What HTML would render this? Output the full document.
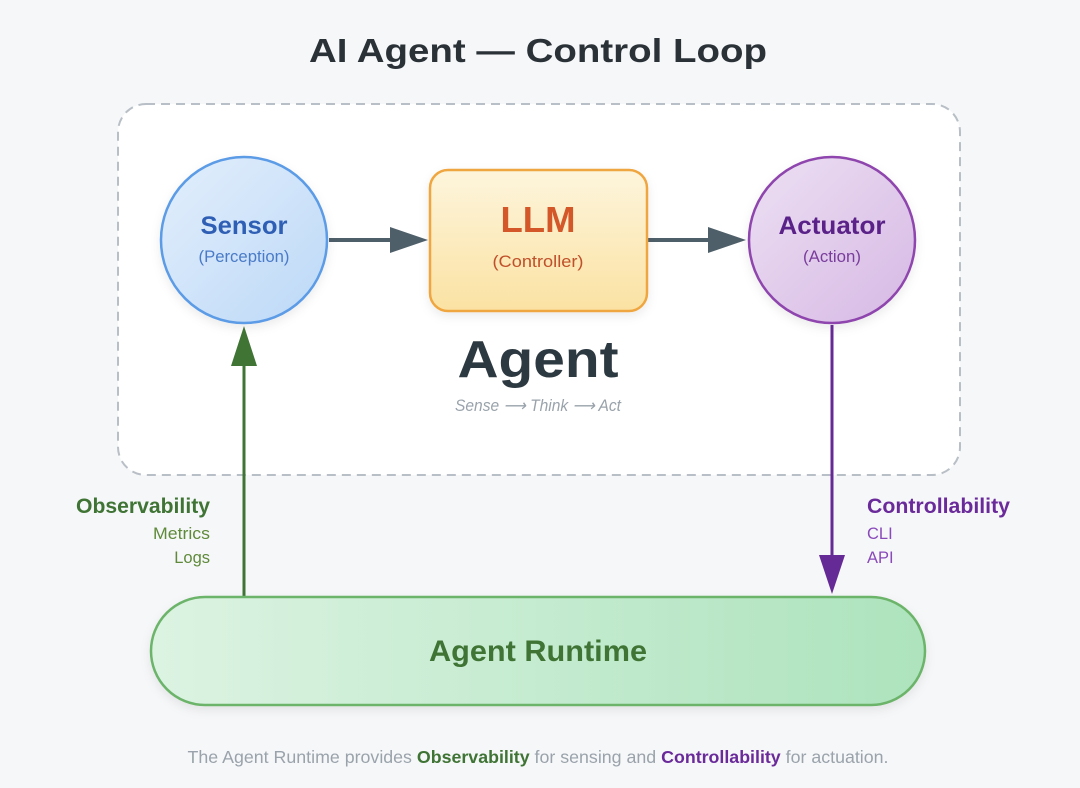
<!DOCTYPE html>
<html><head><meta charset="utf-8"><style>
html,body{margin:0;padding:0;background:#f6f7f9;}
svg{display:block;font-family:"Liberation Sans",sans-serif;}
</style></head><body>
<svg width="1080" height="788" viewBox="0 0 1080 788" xmlns="http://www.w3.org/2000/svg">
<defs>
<linearGradient id="gs" x1="0" y1="0" x2="1" y2="1"><stop offset="0" stop-color="#e3effc"/><stop offset="1" stop-color="#bcd8f7"/></linearGradient>
<linearGradient id="gl" x1="0" y1="0" x2="0" y2="1"><stop offset="0" stop-color="#fdf5dc"/><stop offset="1" stop-color="#fbe2a3"/></linearGradient>
<linearGradient id="ga" x1="0" y1="0" x2="1" y2="1"><stop offset="0" stop-color="#ede0f3"/><stop offset="1" stop-color="#d6b8e4"/></linearGradient>
<linearGradient id="gr" x1="0" y1="0" x2="1" y2="0"><stop offset="0" stop-color="#dcf3e2"/><stop offset="1" stop-color="#ade3bd"/></linearGradient>
<filter id="sh" x="-10%" y="-10%" width="120%" height="130%"><feDropShadow dx="0" dy="4" stdDeviation="5" flood-color="#000" flood-opacity="0.08"/></filter>
</defs>
<rect width="1080" height="788" fill="#f6f7f9"/>
<text x="538" y="62" text-anchor="middle" font-size="33" font-weight="bold" fill="#2a3238" textLength="458" lengthAdjust="spacingAndGlyphs">AI Agent — Control Loop</text>
<rect x="118" y="104" width="842" height="371" rx="28" fill="#fff" stroke="#b8bfc6" stroke-width="2" stroke-dasharray="9 6"/>
<line x1="329" y1="240" x2="392" y2="240" stroke="#4f5f6a" stroke-width="4"/>
<polygon points="390,227 428,240 390,253" fill="#4f5f6a"/>
<line x1="647" y1="240" x2="710" y2="240" stroke="#4f5f6a" stroke-width="4"/>
<polygon points="708,227 746,240 708,253" fill="#4f5f6a"/>
<circle cx="244" cy="240" r="83" fill="url(#gs)" stroke="#5b9be6" stroke-width="2.5" filter="url(#sh)"/>
<text x="244" y="234" text-anchor="middle" font-size="25" font-weight="bold" fill="#2f5fb5" textLength="87" lengthAdjust="spacingAndGlyphs">Sensor</text>
<text x="244" y="262" text-anchor="middle" font-size="16.5" fill="#4a7bc8" textLength="91" lengthAdjust="spacingAndGlyphs">(Perception)</text>
<rect x="430" y="170" width="217" height="141" rx="18" fill="url(#gl)" stroke="#f0a640" stroke-width="2.5" filter="url(#sh)"/>
<text x="538" y="232" text-anchor="middle" font-size="36" font-weight="bold" fill="#d4572a" textLength="75" lengthAdjust="spacingAndGlyphs">LLM</text>
<text x="538" y="267" text-anchor="middle" font-size="17" fill="#c0502a" textLength="91" lengthAdjust="spacingAndGlyphs">(Controller)</text>
<circle cx="832" cy="240" r="83" fill="url(#ga)" stroke="#8e44ad" stroke-width="2.5" filter="url(#sh)"/>
<text x="832" y="234" text-anchor="middle" font-size="25" font-weight="bold" fill="#5a2288" textLength="107" lengthAdjust="spacingAndGlyphs">Actuator</text>
<text x="832" y="262" text-anchor="middle" font-size="16.5" fill="#7a3d9c" textLength="58" lengthAdjust="spacingAndGlyphs">(Action)</text>
<text x="538" y="377" text-anchor="middle" font-size="52" font-weight="bold" fill="#2d3940" textLength="161" lengthAdjust="spacingAndGlyphs">Agent</text>
<text x="538" y="411" text-anchor="middle" font-size="16.5" font-style="italic" fill="#9aa3ab" textLength="166" lengthAdjust="spacingAndGlyphs">Sense ⟶ Think ⟶ Act</text>
<line x1="244" y1="362" x2="244" y2="598" stroke="#3f7435" stroke-width="3"/>
<polygon points="231,366 244,326 257,366" fill="#3f7435"/>
<line x1="832" y1="325" x2="832" y2="558" stroke="#662a96" stroke-width="3"/>
<polygon points="819,555 832,594 845,555" fill="#662a96"/>
<text x="210" y="513" text-anchor="end" font-size="21" font-weight="bold" fill="#3f7435" textLength="134" lengthAdjust="spacingAndGlyphs">Observability</text>
<text x="210" y="539" text-anchor="end" font-size="16.5" fill="#5f8a3a" textLength="57" lengthAdjust="spacingAndGlyphs">Metrics</text>
<text x="210" y="563" text-anchor="end" font-size="16.5" fill="#5f8a3a">Logs</text>
<text x="867" y="513" font-size="21" font-weight="bold" fill="#6a2a9a" textLength="143" lengthAdjust="spacingAndGlyphs">Controllability</text>
<text x="867" y="539" font-size="16.5" fill="#8a4aba">CLI</text>
<text x="867" y="563" font-size="16.5" fill="#8a4aba">API</text>
<rect x="151" y="597" width="774" height="108" rx="54" fill="url(#gr)" stroke="#6cb46a" stroke-width="2.5" filter="url(#sh)"/>
<text x="538" y="661" text-anchor="middle" font-size="30" font-weight="bold" fill="#3f7435" textLength="218" lengthAdjust="spacingAndGlyphs">Agent Runtime</text>
<text x="538" y="763" text-anchor="middle" font-size="17.5" fill="#9aa3ab" textLength="701" lengthAdjust="spacingAndGlyphs">The Agent Runtime provides <tspan font-weight="bold" fill="#3f7435">Observability</tspan> for sensing and <tspan font-weight="bold" fill="#6a2a9a">Controllability</tspan> for actuation.</text>
</svg>
</body></html>
